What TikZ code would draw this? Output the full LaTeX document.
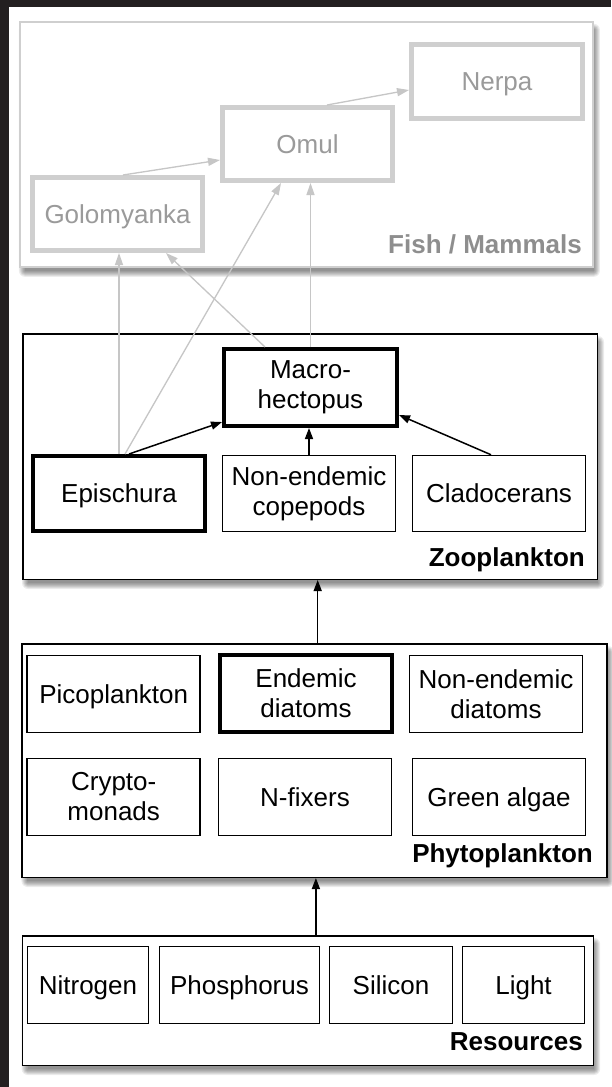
\documentclass[tikz,border=0pt]{standalone}
\usepackage{fontspec}
\setmainfont{Liberation Sans}
\usetikzlibrary{arrows.meta,calc}
\definecolor{framecol}{HTML}{231F20}
\definecolor{lgray}{HTML}{CFCFCF}
\definecolor{tgray}{HTML}{9A9A9A}
\definecolor{lblgray}{HTML}{8E8E8E}
\definecolor{agray}{HTML}{C6C6C6}
\pgfdeclarelayer{back}
\pgfdeclarelayer{shade}
\pgfsetlayers{back,shade,main}
\begin{document}
\begin{tikzpicture}[x=1pt,y=-1pt,
  txt/.style={font=\fontsize{26}{30}\selectfont, align=center, inner sep=0pt},
  one/.style={text height=18.6pt, text depth=0pt},
  panel/.style={draw=black, line width=1.5pt, fill=white, inner sep=0pt},
  fishpanel/.style={panel, draw=lgray, line width=2pt},
  fishbox/.style={txt, draw=lgray, line width=5pt, text=tgray, fill=white},
  thinbox/.style={txt, draw=black, line width=1.5pt, fill=white},
  thickbox/.style={txt, draw=black, line width=4pt, fill=white},
  paneltitle/.style={font=\bfseries\fontsize{26}{30}\selectfont, inner sep=0pt, anchor=base east},
  grayarrow/.style={draw=agray, line width=1.3pt, -{Triangle[length=12pt,width=8pt]}, fill=agray},
  blackarrow/.style={draw=black, line width=1.5pt, -{Triangle[length=11pt,width=8pt]}}
]
\useasboundingbox (0,0) rectangle (611,1087);
\begin{pgfonlayer}{back}
\fill[white] (0,0) rectangle (611,1087);
\fill[framecol] (0,0) rectangle (611,7);
\fill[framecol] (0,0) rectangle (8.5,1087);
\end{pgfonlayer}

% panels
\node[fishpanel, minimum width=573pt, minimum height=245pt] (fish) at (306.4,144.3) {};
\node[panel, minimum width=574.5pt, minimum height=245.5pt] (zoo) at (310,456.5) {};
\node[panel, minimum width=585pt, minimum height=233.5pt] (phyto) at (314.7,760.5) {};
\node[panel, minimum width=571pt, minimum height=129.5pt] (res) at (307.9,1000.5) {};

% soft drop shadows under the panels
\begin{pgfonlayer}{shade}
\foreach \n in {fish,zoo,phyto,res}{
  \foreach \r in {0,...,6}{
    \fill[black, opacity=0.075, rounded corners=\r pt]
      ($(\n.north west)+(6-\r,9-\r)$) rectangle ($(\n.south east)+(\r,3+\r)$);
  }
}
\end{pgfonlayer}

% panel titles
\node[paneltitle, text=lblgray] (fishlbl) at (582,253) {Fish / Mammals};
\node[paneltitle] (zoolbl) at (585,566) {Zooplankton};
\node[paneltitle] (phytolbl) at (593,862) {Phytoplankton};
\node[paneltitle] (reslbl) at (583,1050) {Resources};

% fish / mammals
\node[fishbox, one, minimum width=170pt, minimum height=73pt] (golo) at (117.5,214) {Golomyanka};
\node[fishbox, one, minimum width=170pt, minimum height=73pt] (omul) at (307.5,144) {Omul};
\node[fishbox, one, minimum width=171pt, minimum height=74pt] (nerpa) at (497,81.5) {Nerpa};

% zooplankton
\node[thickbox, minimum width=173pt, minimum height=77pt] (macro) at (310.5,387.5) {Macro-\\hectopus};
\node[thickbox, one, minimum width=172pt, minimum height=75pt] (epi) at (119,493.5) {Epischura};
\node[thinbox, minimum width=173pt, minimum height=76pt] (nec) at (309,493.5) {Non-endemic\\copepods};
\node[thinbox, one, minimum width=173pt, minimum height=76pt] (clad) at (499,493.5) {Cladocerans};

% phytoplankton
\node[thinbox, one, minimum width=173pt, minimum height=77pt] (pico) at (113.7,694) {Picoplankton};
\node[thickbox, minimum width=172pt, minimum height=77pt] (endia) at (306,693.5) {Endemic\\diatoms};
\node[thinbox, minimum width=173pt, minimum height=77pt] (nedia) at (496,694) {Non-endemic\\diatoms};
\node[thinbox, minimum width=173pt, minimum height=77pt] (crypto) at (113.7,797) {Crypto-\\monads};
\node[thinbox, one, minimum width=173pt, minimum height=77pt] (nfix) at (305,797) {N-fixers};
\node[thinbox, one, minimum width=173pt, minimum height=77pt] (green) at (499,797) {Green algae};

% resources
\node[thinbox, one, minimum width=121pt, minimum height=77pt] (nitro) at (88,985) {Nitrogen};
\node[thinbox, one, minimum width=160pt, minimum height=77pt] (phos) at (239.5,985) {Phosphorus};
\node[thinbox, one, minimum width=123pt, minimum height=77pt] (sil) at (391,985) {Silicon};
\node[thinbox, one, minimum width=122pt, minimum height=77pt] (light) at (523.5,985) {Light};

% gray connectors (fish level)
\draw[grayarrow] ($(golo.north)+(5.5,0)$) -- ($(omul.west)+(0,16)$);
\draw[grayarrow] ($(omul.north)+(19.5,0)$) -- ($(nerpa.west)+(0,8.5)$);
\draw[grayarrow] (epi.north) -- (epi.north |- golo.south);
\draw[grayarrow] ($(epi.north)+(6,0)$) -- ($(omul.south)+(-26.5,0)$);
\draw[grayarrow] ($(macro.north)+(-45.5,0)$) -- ($(golo.south)+(48.5,0)$);
\draw[grayarrow] (macro.north) -- (macro.north |- omul.south);

% black connectors
\draw[blackarrow] ($(epi.north)+(10,0)$) -- ($(macro.west)+(0,34.5)$);
\draw[blackarrow] (nec.north) -- (nec.north |- macro.south);
\draw[blackarrow] ($(clad.north)+(-8,0)$) -- ($(macro.east)+(0,27.5)$);
\coordinate (pz) at ($(phyto.north)+(3,0)$);
\draw[blackarrow] (pz) -- (pz |- zoo.south);
\coordinate (rp) at ($(res.north)+(8,0)$);
\draw[blackarrow] (rp) -- (rp |- phyto.south);
\end{tikzpicture}
\end{document}
